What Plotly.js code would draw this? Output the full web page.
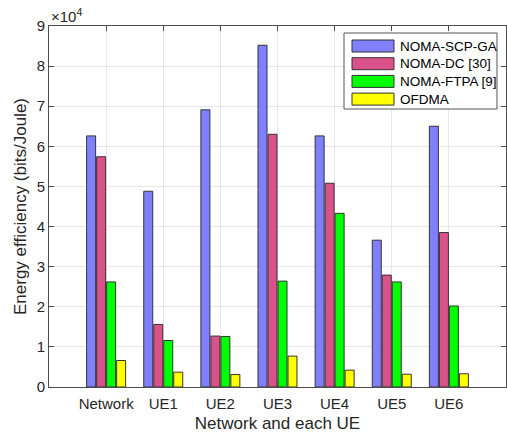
<!DOCTYPE html>
<html>
<head>
<meta charset="utf-8">
<script src="https://cdn.plot.ly/plotly-3.0.1.min.js"></script>
<style>html,body{margin:0;padding:0;background:#fff;}#chart{width:507px;height:434px;}</style>
</head>
<body>
<div id="chart"></div>
<script>
const categories = ['Network', 'UE1', 'UE2', 'UE3', 'UE4', 'UE5', 'UE6'];
const seriesNames = ['NOMA-SCP-GA', 'NOMA-DC [30]', 'NOMA-FTPA [9]', 'OFDMA'];
const scpGA = [62600, 48800, 69100, 85200, 62600, 36600, 65000];
const dc30 = [57400, 15600, 12700, 63000, 50800, 27900, 38500];
const ftpa9 = [26200, 11600, 12600, 26400, 43300, 26200, 20200];
const ofdma = [6600, 3700, 3100, 7700, 4200, 3200, 3300];
const yTickVals = [0, 10000, 20000, 30000, 40000, 50000, 60000, 70000, 80000, 90000];
const yTickText = ['0', '1', '2', '3', '4', '5', '6', '7', '8', '9'];

const colors = ['#8080FF', '#D9538A', '#00FF00', '#FFFF00'];
const edge = '#333333';
const allSeries = [scpGA, dc30, ftpa9, ofdma];

const traces = allSeries.map((vals, i) => ({
  type: 'bar',
  name: seriesNames[i],
  x: categories,
  y: vals,
  marker: {color: colors[i], line: {color: edge, width: 1}},
  hoverinfo: 'x+y+name',
  showlegend: false
}));

const font = 'Liberation Sans, Arial, Helvetica, sans-serif';
const axisColor = '#4d4d4d';
const textColor = '#262626';

// plot-area geometry (pixels) used to place the hand-drawn legend box
const W = 507, H = 434, mL = 49, mR = 1, mT = 26, mB = 47;
const pw = W - mL - mR, ph = H - mT - mB;
const px = v => (v - mL) / pw;
const py = v => (H - mB - v) / ph;

const shapes = [];
const annotations = [];
// legend frame
shapes.push({type: 'rect', xref: 'paper', yref: 'paper',
  x0: px(344), x1: px(497), y0: py(109), y1: py(33),
  fillcolor: '#ffffff', line: {color: '#555555', width: 1}, layer: 'above'});
seriesNames.forEach((name, i) => {
  const cy = 46 + i * 17.7;
  shapes.push({type: 'rect', xref: 'paper', yref: 'paper',
    x0: px(352), x1: px(394), y0: py(cy + 6), y1: py(cy - 6),
    fillcolor: colors[i], line: {color: edge, width: 1}, layer: 'above'});
  annotations.push({xref: 'paper', yref: 'paper', x: px(398), y: py(cy),
    xanchor: 'left', yanchor: 'middle', text: name, showarrow: false,
    font: {family: font, size: 13.5, color: '#000000'}});
});
annotations.push({
  xref: 'paper', yref: 'paper', x: 0, y: 1.0, xanchor: 'left', yanchor: 'bottom',
  text: '×10<sup>4</sup>', showarrow: false, yshift: -1,
  font: {family: font, size: 15, color: textColor}
});

const layout = {
  width: W, height: H,
  margin: {l: mL, r: mR, t: mT, b: mB, pad: 0},
  paper_bgcolor: '#ffffff',
  plot_bgcolor: '#ffffff',
  font: {family: font, color: textColor, size: 15},
  barmode: 'group',
  bargap: 0.3,
  bargroupgap: 0.1,
  showlegend: false,
  xaxis: {
    type: 'category',
    range: [-1, 7],
    showgrid: true, gridcolor: '#e6e6e6', gridwidth: 1,
    showline: true, linecolor: axisColor, linewidth: 1, mirror: 'ticks',
    ticks: 'inside', ticklen: 5, tickcolor: axisColor,
    ticklabelstandoff: 3,
    tickfont: {family: font, size: 15, color: textColor},
    title: {text: 'Network and each UE', font: {family: font, size: 17, color: textColor}, standoff: 6},
    zeroline: false, fixedrange: true
  },
  yaxis: {
    range: [0, 90000],
    tickvals: yTickVals, ticktext: yTickText,
    showgrid: true, gridcolor: '#e6e6e6', gridwidth: 1,
    showline: true, linecolor: axisColor, linewidth: 1, mirror: 'ticks',
    ticks: 'inside', ticklen: 5, tickcolor: axisColor,
    tickfont: {family: font, size: 15, color: textColor},
    title: {text: 'Energy efficiency (bits/Joule)', font: {family: font, size: 17, color: textColor}, standoff: 5},
    zeroline: false, fixedrange: true
  },
  shapes: shapes,
  annotations: annotations
};

Plotly.newPlot('chart', traces, layout, {displayModeBar: false});
</script>
</body>
</html>
